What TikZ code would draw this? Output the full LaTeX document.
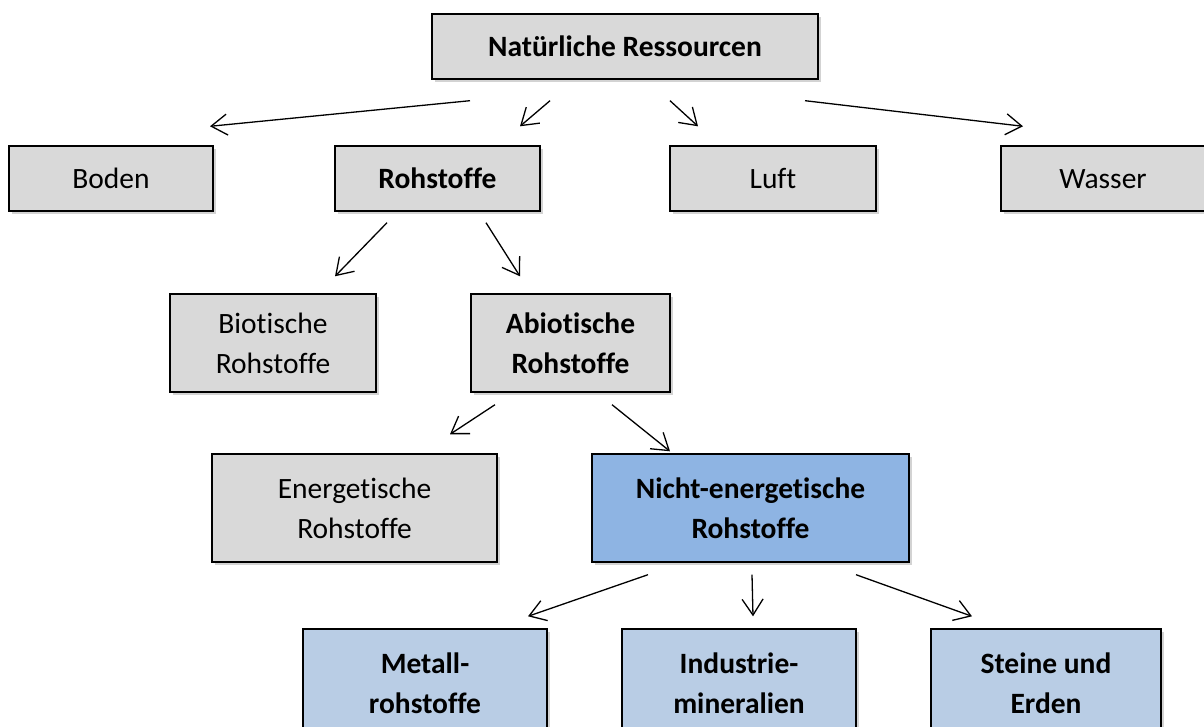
\documentclass[tikz,border=0pt]{standalone}
\usepackage{fontspec}
\setmainfont[Ligatures=NoCommon]{Carlito}
\usetikzlibrary{arrows.meta, shadows}

\definecolor{boxgray}{HTML}{D9D9D9}
\definecolor{nichtblue}{HTML}{8EB4E3}
\definecolor{subblue}{HTML}{B9CDE5}

\tikzset{
  box/.style={draw, line width=1.4pt, fill=boxgray, align=center, inner sep=0pt,
    font=\fontsize{29.5}{40}\selectfont,
    drop shadow={shadow xshift=2.5pt, shadow yshift=-3pt, opacity=0.35}},
  hl/.style={box, fill=nichtblue},
  sub/.style={box, fill=subblue},
  arr/.style={line width=1.3pt, -{Straight Barb[length=16pt, width=21pt, line width=1.3pt]}}
}

\begin{document}
\begin{tikzpicture}[x=1pt, y=-1pt]
  \useasboundingbox (0, 0) rectangle (1204, 727);
  % top level
  \node[box, minimum width=386, minimum height=65] (nr) at (625, 46.5) {\textbf{Natürliche Ressourcen}};
  \node[box, minimum width=204, minimum height=65] (boden) at (111, 178.5) {Boden};
  \node[box, minimum width=205, minimum height=65] (roh) at (437.5, 178.5) {\textbf{Rohstoffe}};
  \node[box, minimum width=206, minimum height=65] (luft) at (773, 178.5) {Luft};
  \node[box, minimum width=204, minimum height=65] (wasser) at (1103, 178.5) {\vphantom{d}Wasser};
  % rohstoffe
  \node[box, minimum width=206, minimum height=98] (bio) at (273, 343) {Biotische\\Rohstoffe};
  \node[box, minimum width=199, minimum height=98] (abio) at (570.5, 343) {\textbf{Abiotische}\\\textbf{Rohstoffe}};
  \node[box, minimum width=285, minimum height=108] (ener) at (354.5, 508) {Energetische\\Rohstoffe};
  \node[hl, minimum width=317, minimum height=108] (nicht) at (750.5, 508) {\textbf{Nicht-energetische}\\\textbf{Rohstoffe}};
  % nicht-energetische
  \node[sub, minimum width=244, minimum height=108] (metall) at (425, 683) {\textbf{Metall-}\\\textbf{rohstoffe}};
  \node[sub, minimum width=234, minimum height=108] (indus) at (739, 683) {\textbf{Industrie-}\\\textbf{mineralien}};
  \node[sub, minimum width=230, minimum height=108] (steine) at (1046, 683) {\textbf{Steine und}\\\textbf{Erden}};

  \draw[arr] ([shift={(-155, 21)}]nr.south) -- ([shift={(99, -19)}]boden.north);
  \draw[arr] ([shift={(-75, 21)}]nr.south) -- ([shift={(82.5, -19)}]roh.north);
  \draw[arr] ([shift={(45, 21)}]nr.south) -- ([shift={(-75, -19)}]luft.north);
  \draw[arr] ([shift={(180, 21)}]nr.south) -- ([shift={(-80, -19)}]wasser.north);
  \draw[arr] ([shift={(-50.5, 11)}]roh.south) -- ([shift={(62, -17)}]bio.north);
  \draw[arr] ([shift={(48.5, 11)}]roh.south) -- ([shift={(-50.5, -17)}]abio.north);
  \draw[arr] ([shift={(-75.5, 12)}]abio.south) -- ([shift={(95.5, -19)}]ener.north);
  \draw[arr] ([shift={(41.5, 12)}]abio.south) -- ([shift={(-80.5, -2)}]nicht.north);
  \draw[arr] ([shift={(-102.5, 12)}]nicht.south) -- ([shift={(103, -12)}]metall.north);
  \draw[arr] ([shift={(1.5, 12)}]nicht.south) -- ([shift={(14, -12)}]indus.north);
  \draw[arr] ([shift={(105.5, 12)}]nicht.south) -- ([shift={(-74, -12)}]steine.north);
\end{tikzpicture}
\end{document}
